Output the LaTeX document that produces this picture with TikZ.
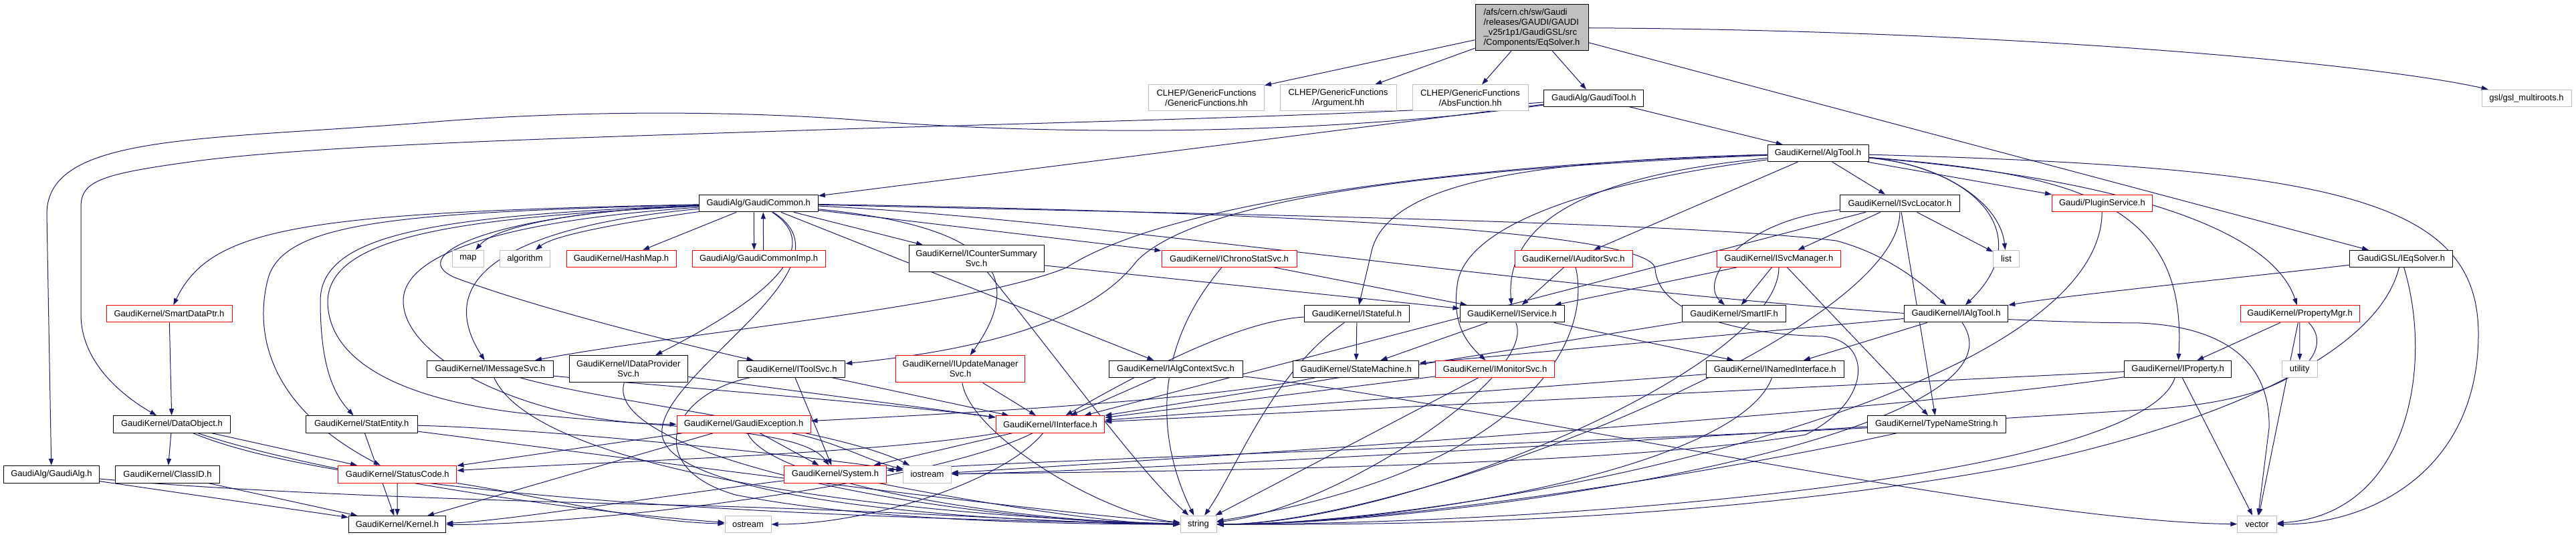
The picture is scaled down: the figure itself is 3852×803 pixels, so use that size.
\documentclass[tikz,border=0pt]{standalone}
\usepackage{fontspec}
\setmainfont{Liberation Sans}
\usetikzlibrary{arrows.meta}
\pgfdeclarelayer{bg}
\pgfsetlayers{bg,main}
\definecolor{edgec}{HTML}{191970}
\definecolor{redb}{HTML}{FF0000}
\definecolor{grayb}{HTML}{BFBFBF}
\begin{document}
\begin{tikzpicture}[x=1pt,y=-1pt,
  nbox/.style={draw=black, line width=1pt, inner sep=0pt, align=center, fill=white, font=\fontsize{13}{15}\selectfont},
  rbox/.style={nbox, draw=redb},
  gbox/.style={nbox, draw=grayb},
  conn/.style={draw=edgec, line width=1pt, -{Triangle[length=10pt,width=7pt]}}
]
\useasboundingbox (0,0) rectangle (3852,803);
% ---------------- nodes ----------------
\node[nbox, fill=grayb, align=left, minimum width=169pt, minimum height=69pt] (root) at (2290.5,41.3) {/afs/cern.ch/sw/Gaudi\\/releases/GAUDI/GAUDI\\\_v25r1p1/GaudiGSL/src\\/Components/EqSolver.h};
\node[gbox, minimum width=173pt, minimum height=39pt] (genfun) at (1804,146.3) {CLHEP/GenericFunctions\\/GenericFunctions.hh};
\node[gbox, minimum width=174pt, minimum height=39pt] (argument) at (2001,146.3) {CLHEP/GenericFunctions\\/Argument.hh};
\node[gbox, minimum width=173pt, minimum height=39pt] (absfun) at (2198.5,146.3) {CLHEP/GenericFunctions\\/AbsFunction.hh};
\node[nbox, minimum width=149pt, minimum height=25pt] (gauditool) at (2383.4,146.7) {GaudiAlg/GaudiTool.h};
\node[gbox, minimum width=134pt, minimum height=25pt] (gsl) at (3778,146.7) {gsl/gsl\_multiroots.h};
\node[nbox, minimum width=151pt, minimum height=25pt] (algtool) at (2718.5,229.2) {GaudiKernel/AlgTool.h};
\node[nbox, minimum width=178pt, minimum height=25.7pt] (gaudicommon) at (1134.3,304) {GaudiAlg/GaudiCommon.h};
\node[nbox, minimum width=179pt, minimum height=25.7pt] (isvclocator) at (2840.9,304) {GaudiKernel/ISvcLocator.h};
\node[rbox, minimum width=150pt, minimum height=25.7pt] (pluginservice) at (3143.4,304) {Gaudi/PluginService.h};
\node[gbox, minimum width=47pt, minimum height=25pt] (map) at (700,386.8) {map};
\node[gbox, minimum width=75pt, minimum height=25pt] (algorithm) at (785,386.8) {algorithm};
\node[rbox, minimum width=164pt, minimum height=25pt] (hashmap) at (929,386.8) {GaudiKernel/HashMap.h};
\node[rbox, minimum width=199pt, minimum height=25pt] (gcimp) at (1134.6,386.8) {GaudiAlg/GaudiCommonImp.h};
\node[nbox, minimum width=202pt, minimum height=39.5pt] (icountersummary) at (1460,386.5) {GaudiKernel/ICounterSummary\\Svc.h};
\node[rbox, minimum width=202pt, minimum height=25pt] (ichronostat) at (1838,386.8) {GaudiKernel/IChronoStatSvc.h};
\node[rbox, minimum width=176pt, minimum height=25pt] (iauditorsvc) at (2353,386.8) {GaudiKernel/IAuditorSvc.h};
\node[rbox, minimum width=185pt, minimum height=25pt] (isvcmanager) at (2660,386.8) {GaudiKernel/ISvcManager.h};
\node[gbox, minimum width=38.6pt, minimum height=25pt] (list) at (3000,386.8) {list};
\node[nbox, minimum width=154pt, minimum height=25pt] (ieqsolver) at (3590.7,386.8) {GaudiGSL/IEqSolver.h};
\node[rbox, minimum width=188pt, minimum height=25.3pt] (smartdataptr) at (253,469.3) {GaudiKernel/SmartDataPtr.h};
\node[nbox, minimum width=157.5pt, minimum height=25.3pt] (istateful) at (2029,469.3) {GaudiKernel/IStateful.h};
\node[nbox, minimum width=156pt, minimum height=25.3pt] (iservice) at (2261,469.3) {GaudiKernel/IService.h};
\node[nbox, minimum width=155pt, minimum height=25.3pt] (smartif) at (2593,469.3) {GaudiKernel/SmartIF.h};
\node[nbox, minimum width=155.5pt, minimum height=25.3pt] (ialgtool) at (2925,469.3) {GaudiKernel/IAlgTool.h};
\node[rbox, minimum width=178pt, minimum height=25.3pt] (propertymgr) at (3439,469.3) {GaudiKernel/PropertyMgr.h};
\node[nbox, minimum width=189pt, minimum height=25pt] (imessagesvc) at (733,551.8) {GaudiKernel/IMessageSvc.h};
\node[nbox, minimum width=177.4pt, minimum height=40.3pt] (idataprovider) at (939.7,551.8) {GaudiKernel/IDataProvider\\Svc.h};
\node[nbox, minimum width=160.4pt, minimum height=25pt] (itoolsvc) at (1183.6,551.8) {GaudiKernel/IToolSvc.h};
\node[rbox, minimum width=193pt, minimum height=40.3pt] (iupdatemanager) at (1436,551.8) {GaudiKernel/IUpdateManager\\Svc.h};
\node[nbox, minimum width=200pt, minimum height=25pt] (ialgcontext) at (1758,551.8) {GaudiKernel/IAlgContextSvc.h};
\node[nbox, minimum width=188pt, minimum height=25pt] (statemachine) at (2027.8,551.8) {GaudiKernel/StateMachine.h};
\node[rbox, minimum width=178.7pt, minimum height=25pt] (imonitorsvc) at (2235.6,551.8) {GaudiKernel/IMonitorSvc.h};
\node[nbox, minimum width=206pt, minimum height=25pt] (inamedinterface) at (2654.3,551.8) {GaudiKernel/INamedInterface.h};
\node[nbox, minimum width=160.4pt, minimum height=25pt] (iproperty) at (3256.6,551.8) {GaudiKernel/IProperty.h};
\node[gbox, minimum width=53pt, minimum height=25pt] (utility) at (3438.7,551.8) {utility};
\node[nbox, minimum width=174.5pt, minimum height=25.6pt] (dataobject) at (257,634.5) {GaudiKernel/DataObject.h};
\node[nbox, minimum width=167pt, minimum height=25.6pt] (statentity) at (540.7,634.5) {GaudiKernel/StatEntity.h};
\node[rbox, minimum width=200pt, minimum height=25.6pt] (gaudiexception) at (1112,634.5) {GaudiKernel/GaudiException.h};
\node[rbox, minimum width=162.5pt, minimum height=25.6pt] (iinterface) at (1570.5,634.5) {GaudiKernel/IInterface.h};
\node[nbox, minimum width=206.5pt, minimum height=25.6pt] (typenamestring) at (2895.8,634.5) {GaudiKernel/TypeNameString.h};
\node[nbox, minimum width=143pt, minimum height=25.7pt] (gaudialg) at (77,709.2) {GaudiAlg/GaudiAlg.h};
\node[nbox, minimum width=156.3pt, minimum height=25.7pt] (classid) at (250.6,709.2) {GaudiKernel/ClassID.h};
\node[rbox, minimum width=177.3pt, minimum height=25.7pt] (statuscode) at (594.3,709.2) {GaudiKernel/StatusCode.h};
\node[rbox, minimum width=153.4pt, minimum height=25.7pt] (system) at (1249,709.2) {GaudiKernel/System.h};
\node[gbox, minimum width=71.3pt, minimum height=25.7pt] (iostream) at (1386.5,709.2) {iostream};
\node[nbox, minimum width=145.6pt, minimum height=25pt] (kernel) at (594,784.2) {GaudiKernel/Kernel.h};
\node[gbox, minimum width=69pt, minimum height=25.7pt] (ostream) at (1118.5,784) {ostream};
\node[gbox, minimum width=54pt, minimum height=25.7pt] (string) at (1792,784) {string};
\node[gbox, minimum width=58.5pt, minimum height=25.7pt] (vector) at (3375,784) {vector};
% ---------------- edges ----------------
\begin{pgfonlayer}{bg}
% root
\draw[conn] (root) -- (genfun);
\draw[conn] (root) -- (argument);
\draw[conn] (root) -- (absfun);
\draw[conn] (root) -- (gauditool);
\draw[conn] (root) .. controls (3000,45) and (3550,95) .. (gsl);
\draw[conn] (root) -- (ieqsolver);
% GaudiTool
\draw[conn] (gauditool) -- (algtool);
\draw[conn] (gauditool) -- (gaudicommon);
\draw[conn] (gauditool) .. controls (2000,200) and (1600,205) .. (1290,180) .. controls (1100,165) and (850,165) .. (640,183) .. controls (300,210) and (70,200) .. (70,320) -- (gaudialg);
\draw[conn] (gauditool) .. controls (2100,170) and (1700,180) .. (1290,192) .. controls (900,205) and (500,215) .. (300,240) .. controls (150,260) and (121,270) .. (121,310) -- (121,470) .. controls (121,540) and (180,590) .. (dataobject);
% GaudiCommon
\draw[conn] (gaudicommon) .. controls (850,315) and (740,340) .. (map);
\draw[conn] (gaudicommon) .. controls (950,330) and (830,350) .. (algorithm);
\draw[conn] (gaudicommon) -- (hashmap);
\draw[conn] ([xshift=-7pt]gaudicommon.south) -- ([xshift=-7pt]gcimp.north);
\draw[conn] ([xshift=7pt]gcimp.north) -- ([xshift=7pt]gaudicommon.south);
\draw[conn] (gaudicommon) .. controls (450,318) and (315,340) .. (smartdataptr);
\draw[conn] (gaudicommon) .. controls (600,318) and (420,330) .. (400,420) .. controls (385,480) and (385,600) .. (statuscode);
\draw[conn] (gaudicommon) .. controls (650,322) and (479,350) .. (479,450) .. controls (479,550) and (500,590) .. (statentity);
\draw[conn] (gaudicommon) .. controls (700,325) and (493,350) .. (490,450) .. controls (490,540) and (600,600) .. (800,620) .. controls (1000,640) and (1200,640) .. (system);
\draw[conn] (gaudicommon) .. controls (750,330) and (603,380) .. (603,450) .. controls (603,540) and (800,634) .. (gaudiexception);
\draw[conn] (gaudicommon) .. controls (800,335) and (636,400) .. (imessagesvc);
\draw[conn] (gaudicommon) .. controls (750,318) and (600,380) .. (680,415) .. controls (800,460) and (1000,510) .. (itoolsvc);
\draw[conn] (gaudicommon) .. controls (1250,380) and (1100,470) .. (idataprovider);
\draw[conn] (gaudicommon) -- (icountersummary);
\draw[conn] (gaudicommon) -- (ichronostat);
\draw[conn] (gaudicommon) .. controls (1500,340) and (1530,420) .. (iupdatemanager);
\draw[conn] (gaudicommon) -- (ialgcontext);
\draw[conn] (gaudicommon) .. controls (1290,400) and (980,560) .. (990,650) .. controls (1000,740) and (1400,780) .. (string);
\draw[conn] (gaudicommon) .. controls (1700,330) and (2600,480) .. (3200,483) .. controls (3350,490) and (3395,560) .. (3393,640) -- (vector);
\draw[conn] (gaudicommon) .. controls (1700,318) and (2500,330) .. (2746,360) .. controls (2820,380) and (2870,420) .. (ialgtool);
\draw[conn] (gaudicommon) .. controls (1800,315) and (2470,340) .. (2475,402) .. controls (2480,470) and (2600,500) .. (2726,503) .. controls (2800,510) and (2800,600) .. (2700,650) .. controls (2400,700) and (1700,705) .. (iostream);
% GaudiAlg
\draw[conn] (gaudialg) -- (kernel);
\draw[conn] (gaudialg) .. controls (350,735) and (700,748) .. (1000,755) .. controls (1400,765) and (1600,784) .. (string);
% SmartDataPtr, DataObject
\draw[conn] (smartdataptr) -- (dataobject);
\draw[conn] (dataobject) -- (classid);
\draw[conn] (dataobject) -- (statuscode);
\draw[conn] (dataobject) .. controls (450,700) and (800,760) .. (ostream);
\draw[conn] (dataobject) .. controls (450,715) and (900,770) .. (string);
\draw[conn] (classid) -- (kernel);
% StatEntity, StatusCode
\draw[conn] (statentity) -- (kernel);
\draw[conn] (statentity) .. controls (900,680) and (1500,760) .. (string);
\draw[conn] (statentity) .. controls (800,640) and (1200,680) .. (iostream);
\draw[conn] (statuscode) -- (kernel);
\draw[conn] (statuscode) .. controls (800,740) and (950,780) .. (ostream);
% GaudiException
\draw[conn] (gaudiexception) -- (statuscode);
\draw[conn] (gaudiexception) -- (kernel);
\draw[conn] (gaudiexception) -- (system);
\draw[conn] (gaudiexception) .. controls (1150,720) and (1500,780) .. (string);
\draw[conn] (gaudiexception) .. controls (1250,660) and (1300,690) .. (iostream);
% System
\draw[conn] (system) .. controls (1000,740) and (750,780) .. (kernel);
\draw[conn] (system) .. controls (1400,740) and (1650,784) .. (string);
% IInterface
\draw[conn] (iinterface) -- (system);
\draw[conn] (iinterface) .. controls (1300,680) and (900,690) .. (statuscode);
\draw[conn] (iinterface) .. controls (1400,720) and (900,785) .. (kernel);
\draw[conn] (iinterface) .. controls (1500,720) and (1300,784) .. (ostream);
% service interfaces
\draw[conn] (imessagesvc) .. controls (900,570) and (1300,600) .. (iinterface);
\draw[conn] (imessagesvc) .. controls (800,700) and (1300,770) .. (string);
\draw[conn] (imessagesvc) .. controls (900,600) and (1250,640) .. (iostream);
\draw[conn] (idataprovider) -- (iinterface);
\draw[conn] (idataprovider) .. controls (900,680) and (1400,780) .. (string);
\draw[conn] (itoolsvc) -- (iinterface);
\draw[conn] (itoolsvc) -- (system);
\draw[conn] (itoolsvc) .. controls (1000,590) and (960,700) .. (1100,740) .. controls (1300,780) and (1600,784) .. (string);
\draw[conn] (iupdatemanager) -- (iinterface);
\draw[conn] (iupdatemanager) .. controls (1450,650) and (1650,770) .. (string);
\draw[conn] (ialgcontext) -- (iinterface);
\draw[conn] (ialgcontext) .. controls (2200,600) and (3000,780) .. (vector);
\draw[conn] (icountersummary) -- (iservice);
\draw[conn] (icountersummary) .. controls (1600,560) and (1700,700) .. (string);
\draw[conn] (ichronostat) -- (iservice);
\draw[conn] (ichronostat) .. controls (1700,550) and (1750,700) .. (string);
\draw[conn] (istateful) -- (statemachine);
\draw[conn] (istateful) .. controls (1850,480) and (1700,560) .. (iinterface);
\draw[conn] (istateful) .. controls (1900,560) and (1850,700) .. (string);
\draw[conn] (iservice) -- (statemachine);
\draw[conn] (iservice) -- (inamedinterface);
\draw[conn] (iservice) .. controls (2300,560) and (2000,760) .. (string);
\draw[conn] (statemachine) .. controls (1800,600) and (1400,620) .. (gaudiexception);
\draw[conn] (imonitorsvc) -- (iinterface);
\draw[conn] (imonitorsvc) -- (string);
\draw[conn] (iauditorsvc) -- (iservice);
\draw[conn] (iauditorsvc) .. controls (2380,500) and (2300,700) .. (string);
% ISvcLocator, ISvcManager
\draw[conn] (isvclocator) -- (isvcmanager);
\draw[conn] (isvclocator) -- (list);
\draw[conn] (isvclocator) .. controls (2600,330) and (2540,420) .. (smartif);
\draw[conn] (isvclocator) -- (iinterface);
\draw[conn] (isvclocator) -- (typenamestring);
\draw[conn] (isvclocator) .. controls (2841,500) and (2100,784) .. (string);
\draw[conn] (isvcmanager) -- (iservice);
\draw[conn] (isvcmanager) -- (smartif);
\draw[conn] (isvcmanager) -- (typenamestring);
\draw[conn] (isvcmanager) .. controls (2660,550) and (2100,784) .. (string);
\draw[conn] (pluginservice) .. controls (3140,600) and (2200,784) .. (string);
\draw[conn] (smartif) -- (iinterface);
\draw[conn] (inamedinterface) -- (iinterface);
\draw[conn] (inamedinterface) .. controls (2600,700) and (2100,784) .. (string);
\draw[conn] (ialgtool) -- (inamedinterface);
\draw[conn] (ialgtool) -- (statemachine);
\draw[conn] (ialgtool) .. controls (3050,650) and (2200,784) .. (string);
\draw[conn] (typenamestring) .. controls (2400,660) and (1500,690) .. (system);
\draw[conn] (typenamestring) .. controls (2600,700) and (2100,784) .. (string);
% IProperty, PropertyMgr
\draw[conn] (iproperty) -- (iinterface);
\draw[conn] (iproperty) .. controls (2800,620) and (1700,690) .. (iostream);
\draw[conn] (iproperty) .. controls (3200,720) and (2300,784) .. (string);
\draw[conn] (iproperty) -- (vector);
\draw[conn] (propertymgr) -- (iproperty);
\draw[conn] (propertymgr) -- (utility);
\draw[conn] (propertymgr) -- (vector);
\draw[conn] (propertymgr) .. controls (3490,520) and (3450,600) .. (3200,613) .. controls (2600,650) and (1700,705) .. (iostream);
% IEqSolver
\draw[conn] (ieqsolver) .. controls (3400,410) and (3100,440) .. (ialgtool);
\draw[conn] (ieqsolver) .. controls (3640,550) and (3600,770) .. (vector);
\draw[conn] (ieqsolver) .. controls (3550,550) and (3250,650) .. (3000,700) .. controls (2500,790) and (2000,784) .. (string);
% AlgTool
\draw[conn] (algtool) .. controls (2200,245) and (1750,300) .. (1595,400) .. controls (1450,460) and (1000,500) .. (imessagesvc);
\draw[conn] (algtool) .. controls (2200,250) and (1800,290) .. (1700,390) .. controls (1640,470) and (1500,520) .. (itoolsvc);
\draw[conn] (algtool) .. controls (2300,240) and (2070,270) .. (2050,380) -- (istateful);
\draw[conn] (algtool) .. controls (2400,260) and (2250,320) .. (iservice);
\draw[conn] (algtool) .. controls (2400,270) and (2200,330) .. (2180,420) .. controls (2170,480) and (2190,510) .. (imonitorsvc);
\draw[conn] (algtool) -- (iauditorsvc);
\draw[conn] (algtool) -- (isvclocator);
\draw[conn] (algtool) -- (pluginservice);
\draw[conn] (algtool) .. controls (2900,245) and (2990,300) .. (list);
\draw[conn] (algtool) .. controls (2950,250) and (3050,350) .. (ialgtool);
\draw[conn] (algtool) .. controls (3500,250) and (3706,300) .. (3706,500) .. controls (3706,700) and (3550,784) .. (vector);
\draw[conn] (algtool) .. controls (3100,260) and (3272,300) .. (iproperty);
\draw[conn] (algtool) .. controls (3200,270) and (3400,350) .. (propertymgr);
\end{pgfonlayer}
\end{tikzpicture}
\end{document}
